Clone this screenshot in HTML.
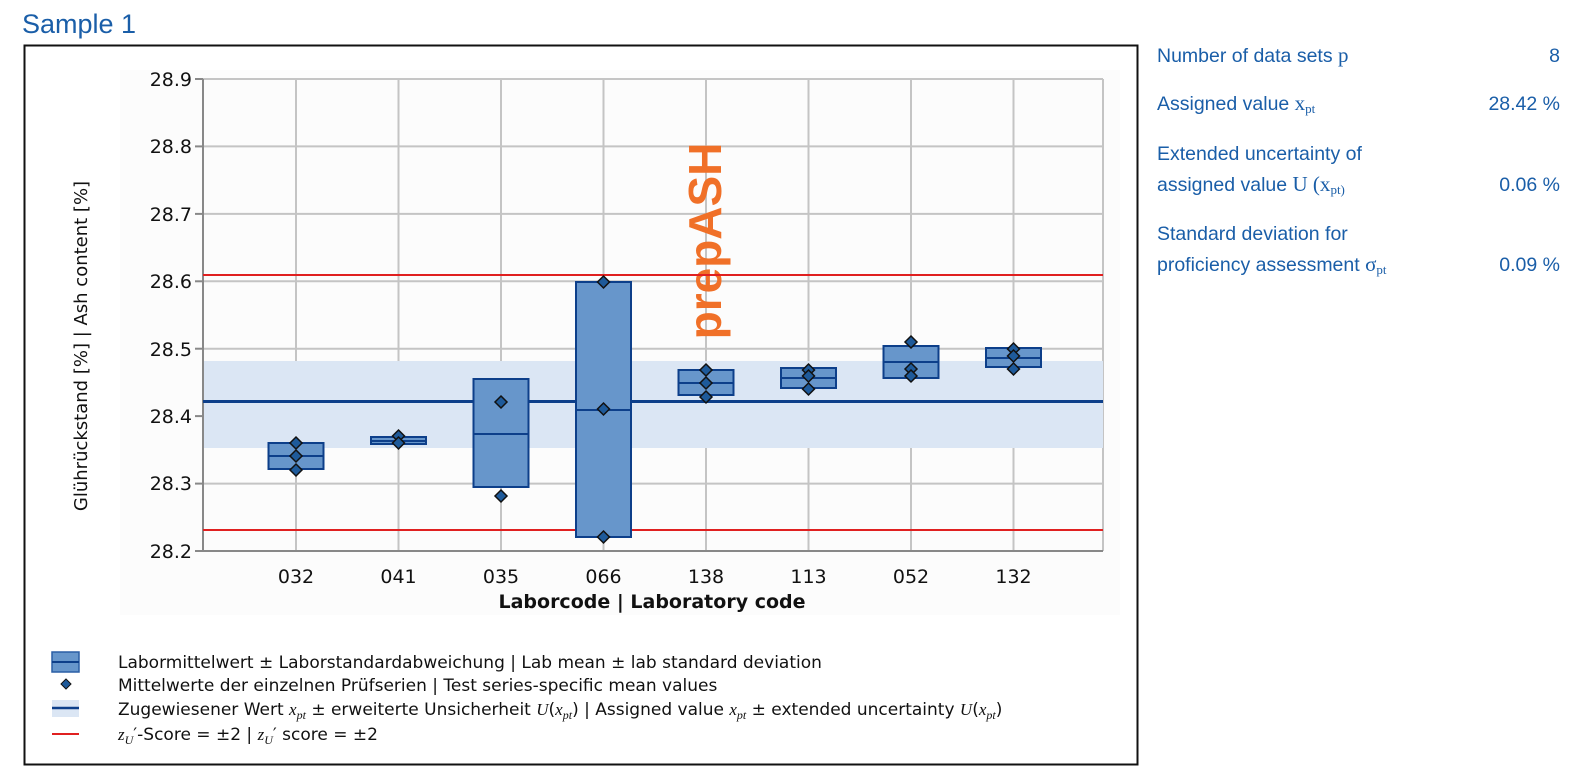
<!DOCTYPE html>
<html><head><meta charset="utf-8"><style>
body{margin:0;width:1571px;height:777px;background:#fff;overflow:hidden;font-family:"Liberation Sans",sans-serif}
</style></head><body>
<svg width="1571" height="777" xmlns="http://www.w3.org/2000/svg">
<text x="22" y="33" font-size="27" fill="#1a5ea8" font-family="Liberation Sans">Sample 1</text>
<rect x="24.5" y="45.5" width="1113" height="719" fill="#fff" stroke="#111" stroke-width="2"/>
<rect x="120" y="70" width="1000" height="545" fill="#fcfcfc"/>
<g stroke="#c4c4c4" stroke-width="2">
<line x1="203" y1="79" x2="1103" y2="79"/><line x1="203" y1="146.4" x2="1103" y2="146.4"/><line x1="203" y1="213.9" x2="1103" y2="213.9"/><line x1="203" y1="281.3" x2="1103" y2="281.3"/><line x1="203" y1="348.7" x2="1103" y2="348.7"/><line x1="203" y1="416.1" x2="1103" y2="416.1"/><line x1="203" y1="483.6" x2="1103" y2="483.6"/>
<line x1="296" y1="79" x2="296" y2="551"/><line x1="398.5" y1="79" x2="398.5" y2="551"/><line x1="501" y1="79" x2="501" y2="551"/><line x1="603.5" y1="79" x2="603.5" y2="551"/><line x1="706" y1="79" x2="706" y2="551"/><line x1="808.5" y1="79" x2="808.5" y2="551"/><line x1="911" y1="79" x2="911" y2="551"/><line x1="1013.5" y1="79" x2="1013.5" y2="551"/><line x1="1103" y1="79" x2="1103" y2="551"/>
</g>
<rect x="203" y="361" width="900" height="87" fill="#dbe6f4"/>
<g stroke="#888" stroke-width="2"><line x1="203" y1="79" x2="203" y2="551"/><line x1="203" y1="551" x2="1103" y2="551"/>
<line x1="195" y1="79" x2="203" y2="79"/><line x1="195" y1="146.4" x2="203" y2="146.4"/><line x1="195" y1="213.9" x2="203" y2="213.9"/><line x1="195" y1="281.3" x2="203" y2="281.3"/><line x1="195" y1="348.7" x2="203" y2="348.7"/><line x1="195" y1="416.1" x2="203" y2="416.1"/><line x1="195" y1="483.6" x2="203" y2="483.6"/><line x1="195" y1="551" x2="203" y2="551"/></g>
<g font-family="DejaVu Sans" font-size="19" fill="#111" text-anchor="end">
<text x="192" y="86">28.9</text><text x="192" y="153">28.8</text><text x="192" y="221">28.7</text><text x="192" y="288">28.6</text><text x="192" y="356">28.5</text><text x="192" y="423">28.4</text><text x="192" y="490">28.3</text><text x="192" y="558">28.2</text></g>
<text transform="translate(87,346) rotate(-90)" font-family="DejaVu Sans" font-size="18" fill="#111" text-anchor="middle">Glührückstand [%] | Ash content [%]</text>
<g font-family="DejaVu Sans" font-size="19" fill="#111" text-anchor="middle">
<text x="296" y="583">032</text><text x="398.5" y="583">041</text><text x="501" y="583">035</text><text x="603.5" y="583">066</text><text x="706" y="583">138</text><text x="808.5" y="583">113</text><text x="911" y="583">052</text><text x="1013.5" y="583">132</text></g>
<text x="652" y="608" font-family="DejaVu Sans" font-size="19" font-weight="bold" fill="#111" text-anchor="middle">Laborcode | Laboratory code</text>
<text transform="translate(721,241) rotate(-90)" font-family="Liberation Sans" font-size="46" font-weight="bold" fill="#f07028" text-anchor="middle">prepASH</text>
<g stroke="#e02020" stroke-width="2"><line x1="203" y1="275" x2="1103" y2="275"/><line x1="203" y1="530" x2="1103" y2="530"/></g>
<line x1="203" y1="401.5" x2="1103" y2="401.5" stroke="#0d3f8a" stroke-width="3"/>
<g fill="#6796cb" stroke="#0d3f8a" stroke-width="2">
<rect x="268.5" y="443" width="55" height="26"/><line x1="268.5" y1="456" x2="323.5" y2="456"/>
<rect x="371" y="437" width="55" height="7"/><line x1="371" y1="441" x2="426" y2="441"/>
<rect x="473.5" y="379" width="55" height="108"/><line x1="473.5" y1="434" x2="528.5" y2="434"/>
<rect x="576" y="282" width="55" height="255"/><line x1="576" y1="410" x2="631" y2="410"/>
<rect x="678.5" y="370" width="55" height="25"/><line x1="678.5" y1="383" x2="733.5" y2="383"/>
<rect x="781" y="368" width="55" height="20"/><line x1="781" y1="378" x2="836" y2="378"/>
<rect x="883.5" y="346" width="55" height="32"/><line x1="883.5" y1="362" x2="938.5" y2="362"/>
<rect x="986" y="348" width="55" height="19"/><line x1="986" y1="358" x2="1041" y2="358"/>
</g>
<g fill="#1e5a9a" stroke="#111" stroke-width="1.5">
<path d="M0,-6 L6,0 L0,6 L-6,0Z" transform="translate(296,443)"/>
<path d="M0,-6 L6,0 L0,6 L-6,0Z" transform="translate(296,456)"/>
<path d="M0,-6 L6,0 L0,6 L-6,0Z" transform="translate(296,470)"/>
<path d="M0,-6 L6,0 L0,6 L-6,0Z" transform="translate(398.5,436)"/>
<path d="M0,-6 L6,0 L0,6 L-6,0Z" transform="translate(398.5,443)"/>
<path d="M0,-6 L6,0 L0,6 L-6,0Z" transform="translate(501,402)"/>
<path d="M0,-6 L6,0 L0,6 L-6,0Z" transform="translate(501,496)"/>
<path d="M0,-6 L6,0 L0,6 L-6,0Z" transform="translate(603.5,282)"/>
<path d="M0,-6 L6,0 L0,6 L-6,0Z" transform="translate(603.5,409)"/>
<path d="M0,-6 L6,0 L0,6 L-6,0Z" transform="translate(603.5,537)"/>
<path d="M0,-6 L6,0 L0,6 L-6,0Z" transform="translate(706,370)"/>
<path d="M0,-6 L6,0 L0,6 L-6,0Z" transform="translate(706,383)"/>
<path d="M0,-6 L6,0 L0,6 L-6,0Z" transform="translate(706,397)"/>
<path d="M0,-6 L6,0 L0,6 L-6,0Z" transform="translate(808.5,370)"/>
<path d="M0,-6 L6,0 L0,6 L-6,0Z" transform="translate(808.5,376)"/>
<path d="M0,-6 L6,0 L0,6 L-6,0Z" transform="translate(808.5,389)"/>
<path d="M0,-6 L6,0 L0,6 L-6,0Z" transform="translate(911,342)"/>
<path d="M0,-6 L6,0 L0,6 L-6,0Z" transform="translate(911,369)"/>
<path d="M0,-6 L6,0 L0,6 L-6,0Z" transform="translate(911,376)"/>
<path d="M0,-6 L6,0 L0,6 L-6,0Z" transform="translate(1013.5,349)"/>
<path d="M0,-6 L6,0 L0,6 L-6,0Z" transform="translate(1013.5,356)"/>
<path d="M0,-6 L6,0 L0,6 L-6,0Z" transform="translate(1013.5,369)"/>
</g>
<rect x="52" y="652" width="27" height="20" fill="#6796cb" stroke="#2a5fa5" stroke-width="1.5"/><line x1="52" y1="662" x2="79" y2="662" stroke="#0d3f8a" stroke-width="2"/>
<path d="M66,679 L71,684 L66,689 L61,684Z" fill="#1e5a9a" stroke="#111"/>
<rect x="52" y="700" width="27" height="17" fill="#dbe6f4"/><line x1="52" y1="708" x2="79" y2="708" stroke="#0d3f8a" stroke-width="2.5"/>
<line x1="52" y1="734" x2="79" y2="734" stroke="#e02020" stroke-width="2"/>
<g font-family="DejaVu Sans" font-size="17" fill="#111">
<text x="118" y="668">Labormittelwert ± Laborstandardabweichung | Lab mean ± lab standard deviation</text>
<text x="118" y="691">Mittelwerte der einzelnen Prüfserien | Test series-specific mean values</text>
<text x="118" y="715">Zugewiesener Wert <tspan font-family="Liberation Serif" font-style="italic">x<tspan font-size="12" dy="4">pt</tspan></tspan><tspan dy="-4"> ± erweiterte Unsicherheit </tspan><tspan font-family="Liberation Serif" font-style="italic">U</tspan>(<tspan font-family="Liberation Serif" font-style="italic">x<tspan font-size="12" dy="4">pt</tspan></tspan><tspan dy="-4">) | Assigned value </tspan><tspan font-family="Liberation Serif" font-style="italic">x<tspan font-size="12" dy="4">pt</tspan></tspan><tspan dy="-4"> ± extended uncertainty </tspan><tspan font-family="Liberation Serif" font-style="italic">U</tspan>(<tspan font-family="Liberation Serif" font-style="italic">x<tspan font-size="12" dy="4">pt</tspan></tspan><tspan dy="-4">)</tspan></text>
<text x="118" y="740"><tspan font-family="Liberation Serif" font-style="italic">z<tspan font-size="12" dy="4">U</tspan></tspan><tspan dy="-4">′-Score = ±2 | </tspan><tspan font-family="Liberation Serif" font-style="italic">z<tspan font-size="12" dy="4">U</tspan></tspan><tspan dy="-4">′ score = ±2</tspan></text>
</g>
<g font-family="Liberation Sans" font-size="19.5" fill="#1a5ea8">
<text x="1157" y="62">Number of data sets <tspan font-family="Liberation Serif" font-size="21">p</tspan></text>
<text x="1560" y="62" text-anchor="end">8</text>
<text x="1157" y="110">Assigned  value <tspan font-family="Liberation Serif" font-size="21">x<tspan font-size="13" dy="3">pt</tspan></tspan></text>
<text x="1560" y="110" text-anchor="end">28.42 %</text>
<text x="1157" y="160">Extended uncertainty of</text>
<text x="1157" y="191">assigned value <tspan font-family="Liberation Serif" font-size="21">U (x<tspan font-size="13" dy="3">pt)</tspan></tspan></text>
<text x="1560" y="191" text-anchor="end">0.06 %</text>
<text x="1157" y="240">Standard deviation for</text>
<text x="1157" y="271">proficiency assessment <tspan font-family="Liberation Serif" font-size="21">σ<tspan font-size="13" dy="3">pt</tspan></tspan></text>
<text x="1560" y="271" text-anchor="end">0.09 %</text>
</g>
</svg>
</body></html>
